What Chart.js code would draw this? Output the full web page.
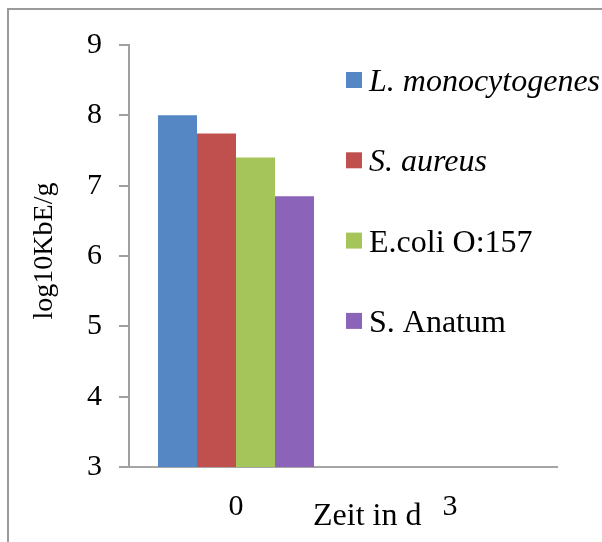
<!DOCTYPE html>
<html>
<head>
<meta charset="utf-8">
<script src="https://cdn.jsdelivr.net/npm/chart.js@4/dist/chart.umd.min.js"></script>
<style>
  html, body { margin: 0; padding: 0; background: #fff; }
  #wrap { width: 602px; height: 542px; position: relative; }
</style>
</head>
<body>
<div id="wrap"><canvas id="c" width="602" height="542"></canvas></div>
<script>
const categories = ['0', '3'];
const seriesNames = ['L. monocytogenes', 'S. aureus', 'E.coli O:157', 'S. Anatum'];
const seriesItalic = [true, true, false, false];
const seriesColors = ['#5487C4', '#C0504D', '#A5C55B', '#8B63B8'];
const listeria = [8.0, null];
const aureus = [7.74, null];
const ecoli = [7.40, null];
const anatum = [6.85, null];
const yTicks = [3, 4, 5, 6, 7, 8, 9];
const yTitle = 'log10KbE/g';
const xTitle = 'Zeit in d';

const seriesValues = [listeria, aureus, ecoli, anatum];
const FONT = '"Liberation Serif", "Times New Roman", serif';

const decorPlugin = {
  id: 'decor',
  beforeDraw(chart) {
    const ctx = chart.ctx;
    ctx.save();
    ctx.strokeStyle = '#9a9a9a';
    ctx.lineWidth = 2;
    ctx.beginPath();
    ctx.moveTo(8, 542);
    ctx.lineTo(8, 9);
    ctx.lineTo(602, 9);
    ctx.stroke();
    ctx.restore();
  },
  afterDraw(chart) {
    const ctx = chart.ctx;
    const area = chart.chartArea;
    ctx.save();
    ctx.fillStyle = '#000';
    // legend
    chart.data.datasets.forEach((ds, i) => {
      const cy = 80 + i * 80.3;
      ctx.fillStyle = ds.backgroundColor;
      ctx.fillRect(346, cy - 8, 16, 16);
      ctx.fillStyle = '#000';
      ctx.font = (seriesItalic[i] ? 'italic ' : '') + '32px ' + FONT;
      ctx.textBaseline = 'alphabetic';
      ctx.textAlign = 'left';
      ctx.fillText(ds.label, 369, cy + 11);
    });
    // x title
    ctx.font = '32px ' + FONT;
    ctx.textBaseline = 'alphabetic';
    ctx.textAlign = 'left';
    ctx.fillText(xTitle, 313, 525);
    // y title
    ctx.save();
    ctx.font = '28px ' + FONT;
    ctx.translate(45, (area.top + area.bottom) / 2 - 5);
    ctx.rotate(-Math.PI / 2);
    ctx.textAlign = 'center';
    ctx.textBaseline = 'middle';
    ctx.fillText(yTitle, 0, 0);
    ctx.restore();
    ctx.restore();
  }
};

new Chart(document.getElementById('c'), {
  type: 'bar',
  data: {
    labels: categories,
    datasets: seriesNames.map((n, i) => ({
      label: n,
      data: seriesValues[i],
      backgroundColor: seriesColors[i],
      borderWidth: 0,
      barPercentage: 1.0,
      categoryPercentage: 0.729
    }))
  },
  options: {
    responsive: false,
    animation: false,
    layout: { padding: { left: 0, top: 45, right: 45, bottom: 0 } },
    plugins: { legend: { display: false }, tooltip: { enabled: false } },
    scales: {
      x: {
        grid: { display: false, drawTicks: false },
        border: { display: true, color: '#a6a6a6', width: 2 },
        ticks: { color: '#000', font: { family: FONT, size: 30 }, padding: 22, maxRotation: 0 },
        afterFit(s) { s.height = 75; }
      },
      y: {
        min: 3, max: 9,
        afterBuildTicks(s) { s.ticks = yTicks.map(v => ({ value: v })); },
        grid: { display: true, drawOnChartArea: false, drawTicks: true, tickLength: 10, color: '#a0a0a0', lineWidth: 2 },
        border: { display: true, color: '#a0a0a0', width: 2 },
        ticks: { color: '#000', font: { family: FONT, size: 30 }, padding: 17 },
        afterFit(s) { s.width = 129; }
      }
    }
  },
  plugins: [decorPlugin]
});
</script>
</body>
</html>
